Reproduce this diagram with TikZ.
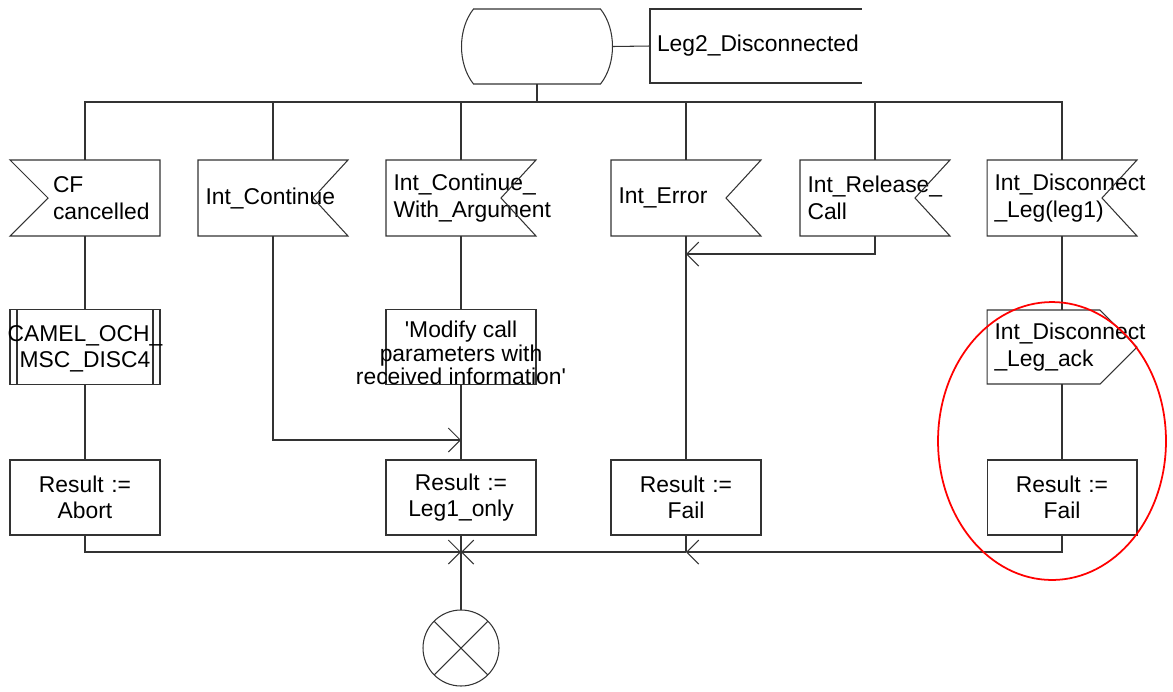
\documentclass[tikz,border=0pt]{standalone}
\usepackage{fontspec}
\setmainfont{Liberation Sans}
\usetikzlibrary{arrows.meta}

\tikzset{
  base/.style={inner sep=0pt, outer sep=0pt, font=\fontsize{13}{15}\selectfont},
  inp/.style={base, minimum width=3cm, minimum height=1.52cm, text width=2.7cm, align=left},
  box/.style={base, draw, minimum width=3cm, minimum height=1.5cm},
  res/.style={box, text width=2.7cm, align=center},
  arr/.style={-{Straight Barb[length=2.4mm,width=4.8mm]}},
}

\begin{document}
\begin{tikzpicture}[x=0.02cm, y=-0.02cm, line width=0.6pt, draw=black!80]
     \useasboundingbox (0,0) rectangle (1173,691);
     % state and comment
     \node[base, minimum width=3.02cm, minimum height=1.5cm] (state) at (537,46.5) {};
     \draw ([xshift=0.24cm]state.north west) -- ([xshift=-0.24cm]state.north east)
           .. controls ([xshift=0.08cm,yshift=-0.4cm]state.north east) and ([xshift=0.08cm,yshift=0.4cm]state.south east) .. ([xshift=-0.24cm]state.south east)
           -- ([xshift=0.24cm]state.south west)
           .. controls ([xshift=-0.08cm,yshift=0.4cm]state.south west) and ([xshift=-0.08cm,yshift=-0.4cm]state.north west) .. cycle;
     \node[base, anchor=west, minimum height=1.48cm, text width=3.96cm, inner xsep=0.14cm, align=left] (cmt) at (650,46) {Leg2\_Disconnected};
     \draw (cmt.north east) -- (cmt.north west) -- (cmt.south west) -- (cmt.south east);
     \draw (state.east) -- (cmt.west);
     \coordinate (bus) at (537,102);

     % inputs
     \node[inp] (cf) at (85,198) {\hspace*{0.71cm}CF\\\hspace*{0.71cm}cancelled};
     \node[inp] (ic) at (273,198) {Int\_Continue};
     \node[inp] (icwa) at (461,198) {Int\_Continue\_\\With\_Argument};
     \node[inp] (ie) at (686,198) {Int\_Error};
     \node[inp] (irc) at (875,198) {Int\_Release\_\\Call};
     \node[inp] (idl) at (1062,198) {Int\_Disconnect\\\_Leg(leg1)};
     \draw (cf.north west) -- (cf.north east) -- (cf.south east) -- (cf.south west) -- ([xshift=0.76cm]cf.west) -- cycle;
     \draw (ic.north west) -- (ic.north east) -- ([xshift=-0.7cm]ic.east) -- (ic.south east) -- (ic.south west) -- cycle;
     \draw (icwa.north west) -- (icwa.north east) -- ([xshift=-0.7cm]icwa.east) -- (icwa.south east) -- (icwa.south west) -- cycle;
     \draw (ie.north west) -- (ie.north east) -- ([xshift=-0.7cm]ie.east) -- (ie.south east) -- (ie.south west) -- cycle;
     \draw (irc.north west) -- (irc.north east) -- ([xshift=-0.7cm]irc.east) -- (irc.south east) -- (irc.south west) -- cycle;
     \draw (idl.north west) -- (idl.north east) -- ([xshift=-0.7cm]idl.east) -- (idl.south east) -- (idl.south west) -- cycle;

     % middle row
     \node[box] (proc) at (85,347) {};
     \draw ([xshift=0.14cm]proc.north west) -- ([xshift=0.14cm]proc.south west);
     \draw ([xshift=-0.14cm]proc.north east) -- ([xshift=-0.14cm]proc.south east);
     \node[base, align=center] (proctxt) at ([yshift=-0.04cm]proc) {CAMEL\_OCH\_\\MSC\_DISC4};
     \node[box] (task) at (461,347) {};
     \node[base, align=center, font=\fontsize{13}{13.2}\selectfont] (tasktxt) at ([yshift=-0.12cm]task) {\textquotesingle Modify call\\parameters with\\received information\textquotesingle};
     \node[inp, minimum height=1.48cm] (ack) at (1062,347) {Int\_Disconnect\\\_Leg\_ack};
     \draw (ack.north west) -- ([xshift=-0.74cm]ack.north east) -- (ack.east) -- ([xshift=-0.74cm]ack.south east) -- (ack.south west) -- cycle;

     % results
     \node[res] (r1) at (85,497.5) {Result :=\\Abort};
     \node[res] (r2) at (461,497.5) {Result :=\\Leg1\_only};
     \node[res] (r3) at (686,497.5) {Result :=\\Fail};
     \node[res] (r4) at (1062,497.5) {Result :=\\Fail};

     % stop
     \node[base, draw, circle, minimum size=1.52cm] (stop) at (461,648) {};
     \draw (stop.north west) -- (stop.south east) (stop.north east) -- (stop.south west);

     \coordinate (m2) at (461,440);
     \coordinate (m4) at (686,254);
     \coordinate (j) at (461,552);

     % connectors
     \draw[line width=1.2pt] (state.south) -- (bus);
     \draw (cf.north) |- (bus) -| (idl.north);
     \draw (ic.north) -- (ic.north |- bus);
     \draw (icwa.north) -- (icwa.north |- bus);
     \draw (ie.north) -- (ie.north |- bus);
     \draw (irc.north) -- (irc.north |- bus);
     \draw (cf.south) -- (proc.north);
     \draw (proc.south) -- (r1.north);
     \draw[arr] (ic.south) |- (m2);
     \draw (icwa.south) -- (task.north);
     \draw (task.south) -- (m2);
     \draw[line width=1.2pt] (m2) -- (r2.north);
     \draw (ie.south) -- (r3.north);
     \draw[arr] (irc.south) |- (m4);
     \draw (idl.south) -- (ack.north);
     \draw (ack.south) -- (r4.north);
     \draw[arr] (r1.south) |- (j);
     \draw (r2.south) -- (j);
     \draw (r3.south) -- (r3.south |- j);
     \draw[arr] (r4.south) |- (r3.south |- j);
     \draw[arr] (r3.south |- j) -- (j);
     \draw[line width=1.2pt] (j) -- (stop.north);

     % highlight
     \draw[red, line width=1pt] (1052,441) ellipse [x radius=2.28cm, y radius=2.78cm];
\end{tikzpicture}
\end{document}
